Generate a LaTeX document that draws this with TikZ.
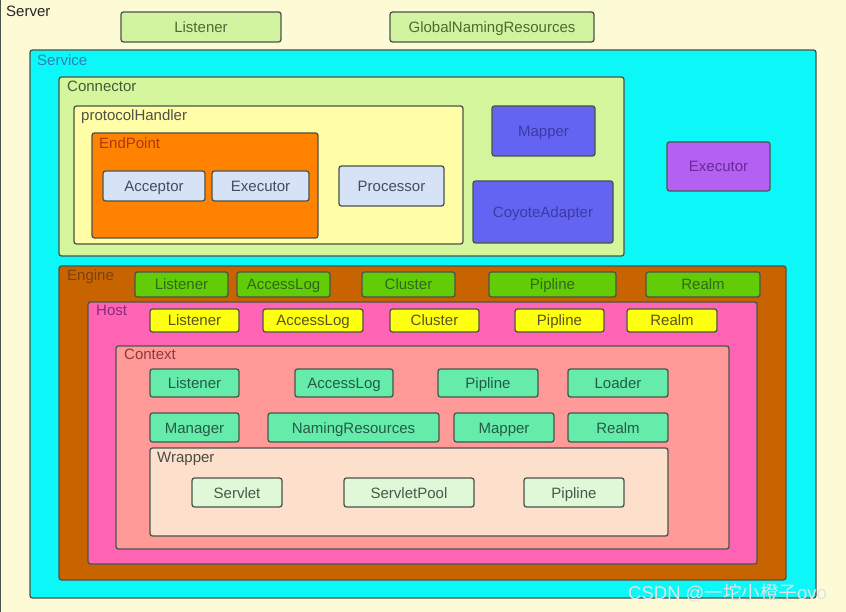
\documentclass[tikz,border=0pt]{standalone}
\usepackage{fontspec}
\setmainfont{Liberation Sans}
\newfontfamily\cjk{Noto Sans CJK SC}
\definecolor{bdr}{HTML}{4A544A}
\definecolor{serverbg}{HTML}{FDFBD6}
\definecolor{topgreen}{HTML}{D2F4A0}
\definecolor{cyanbg}{HTML}{0CF8F8}
\definecolor{connbg}{HTML}{D6F69E}
\definecolor{protbg}{HTML}{FFFDA6}
\definecolor{endbg}{HTML}{FF8200}
\definecolor{lblue}{HTML}{D6E2F6}
\definecolor{mapbg}{HTML}{6464F2}
\definecolor{purp}{HTML}{B460F2}
\definecolor{engbg}{HTML}{C86400}
\definecolor{enggreen}{HTML}{62CC06}
\definecolor{hostbg}{HTML}{FF64B4}
\definecolor{hostyel}{HTML}{FFFF10}
\definecolor{ctxbg}{HTML}{FF9A98}
\definecolor{ctxkid}{HTML}{66ECAA}
\definecolor{wrapbg}{HTML}{FCE0CC}
\definecolor{wrapkid}{HTML}{E0F8D8}
% text colours
\definecolor{ttop}{HTML}{4E6A34}
\definecolor{tserv}{HTML}{2A80B8}
\definecolor{tconn}{HTML}{465A36}
\definecolor{tprot}{HTML}{505048}
\definecolor{tend}{HTML}{A83A10}
\definecolor{tblue}{HTML}{444C62}
\definecolor{tmap}{HTML}{3A3AA8}
\definecolor{tpur}{HTML}{6A2A9A}
\definecolor{teng}{HTML}{7A4210}
\definecolor{tengk}{HTML}{2E6A1A}
\definecolor{thost}{HTML}{8A2A7A}
\definecolor{thostk}{HTML}{5A5420}
\definecolor{tctx}{HTML}{8A3A3A}
\definecolor{tctxk}{HTML}{245A48}
\definecolor{twrap}{HTML}{4A4A44}
\definecolor{twrapk}{HTML}{465846}
\tikzset{
  x=1pt, y=-1pt,
  every node/.style={font=\fontsize{15}{17}\selectfont},
  boxbase/.style={draw=bdr, line width=1.3pt, rounded corners=2.5pt, inner sep=0pt, outer sep=0pt, anchor=north west, text height=12pt, text depth=1pt},
  cont/.style={boxbase},
  lbl/.style={anchor=north west, inner sep=0pt},
  topk/.style={boxbase, fill=topgreen, text=ttop},
  blk/.style={boxbase, fill=lblue, text=tblue},
  mapk/.style={boxbase, fill=mapbg, text=tmap},
  purk/.style={boxbase, fill=purp, text=tpur},
  engk/.style={boxbase, fill=enggreen, text=tengk},
  hostk/.style={boxbase, fill=hostyel, text=thostk},
  ctxk/.style={boxbase, fill=ctxkid, text=tctxk},
  wrapk/.style={boxbase, fill=wrapkid, text=twrapk},
}
% \bx{name}{x1}{y1}{x2}{y2}{style}{text}
\newcommand{\bx}[7]{\node[#6, minimum width={#4pt-#2pt}, minimum height={#5pt-#3pt}] (#1) at (#2,#3) {#7};}
\begin{document}
\begin{tikzpicture}
\useasboundingbox (0,0) rectangle (846,612);
% Server
\node[boxbase, fill=serverbg, rounded corners=0pt, line width=1pt, minimum width=846pt, minimum height=612pt] (server) at (0,0) {};
\node[lbl, text=black!85] (serverl) at (6,6) {Server};
\bx{slis}{121}{12}{281}{42}{topk}{Listener}
\bx{gnr}{390}{12}{594}{42}{topk}{GlobalNamingResources}
% Service
\bx{service}{30}{50}{816}{598}{cont, fill=cyanbg}{}
\node[lbl, text=tserv] (servicel) at (37,54) {Service};
% Connector
\bx{conn}{59}{77}{624}{256}{cont, fill=connbg}{}
\node[lbl, text=tconn] (connl) at (67,81) {Connector};
\bx{prot}{74}{106}{463}{244}{cont, fill=protbg}{}
\node[lbl, text=tprot] (protl) at (81,109) {protocolHandler};
\bx{endp}{92}{133}{318}{238}{cont, fill=endbg}{}
\node[lbl, text=tend] (endpl) at (99,137) {EndPoint};
\bx{acc}{103}{171}{205}{201}{blk}{Acceptor}
\bx{exe}{212}{171}{309}{201}{blk}{Executor}
\bx{proc}{339}{166}{444}{206}{blk}{Processor}
\bx{mapper}{492}{106}{595}{156}{mapk}{Mapper}
\bx{coyote}{473}{181}{613}{243}{mapk}{CoyoteAdapter}
\bx{sexe}{667}{142}{770}{191}{purk}{Executor}
% Engine
\bx{engine}{59}{266}{786}{580}{cont, fill=engbg}{}
\node[lbl, text=teng] (enginel) at (67,269) {Engine};
\bx{elis}{135}{272}{228}{297}{engk}{Listener}
\bx{eacc}{237}{272}{330}{297}{engk}{AccessLog}
\bx{eclu}{362}{272}{455}{297}{engk}{Cluster}
\bx{epip}{489}{272}{616}{297}{engk}{Pipline}
\bx{erea}{646}{272}{760}{297}{engk}{Realm}
% Host
\bx{host}{88}{302}{757}{564}{cont, fill=hostbg}{}
\node[lbl, text=thost] (hostl) at (96,305) {Host};
\bx{hlis}{150}{309}{239}{332}{hostk}{Listener}
\bx{hacc}{263}{309}{363}{332}{hostk}{AccessLog}
\bx{hclu}{390}{309}{479}{332}{hostk}{Cluster}
\bx{hpip}{515}{309}{604}{332}{hostk}{Pipline}
\bx{hrea}{627}{309}{717}{332}{hostk}{Realm}
% Context
\bx{ctx}{116}{346}{729}{549}{cont, fill=ctxbg}{}
\node[lbl, text=tctx] (ctxl) at (124,349) {Context};
\bx{clis}{150}{369}{239}{397}{ctxk}{Listener}
\bx{cacc}{295}{369}{393}{397}{ctxk}{AccessLog}
\bx{cpip}{438}{369}{538}{397}{ctxk}{Pipline}
\bx{cloa}{568}{369}{668}{397}{ctxk}{Loader}
\bx{cman}{150}{413}{239}{442}{ctxk}{Manager}
\bx{cnam}{268}{413}{439}{442}{ctxk}{NamingResources}
\bx{cmap}{454}{413}{554}{442}{ctxk}{Mapper}
\bx{crea}{568}{413}{668}{442}{ctxk}{Realm}
% Wrapper
\bx{wrap}{150}{448}{668}{536}{cont, fill=wrapbg}{}
\node[lbl, text=twrap] (wrapl) at (157,452) {Wrapper};
\bx{wser}{192}{478}{282}{507}{wrapk}{Servlet}
\bx{wpool}{344}{478}{474}{507}{wrapk}{ServletPool}
\bx{wpip}{524}{478}{624}{507}{wrapk}{Pipline}
% watermark
\node[anchor=west, inner sep=0pt, text=white!78!gray, font=\fontsize{18.5}{20}\selectfont] (wm) at (628,593) {CSDN @{\cjk 一坨小橙子}ovo};
\end{tikzpicture}
\end{document}
